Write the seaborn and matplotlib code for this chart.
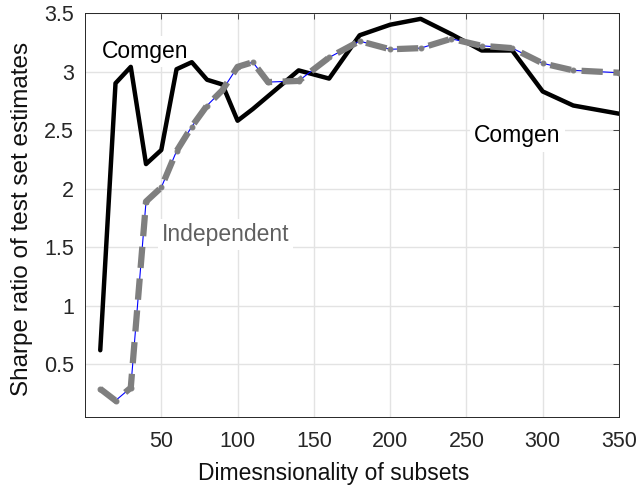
import matplotlib
matplotlib.use("Agg")
import matplotlib.pyplot as plt
import seaborn as sns
import pandas as pd

dims = [10, 20, 30, 40, 50, 60, 70, 80, 90, 100, 110, 120, 140, 160, 180, 200, 220, 240, 260, 280, 300, 320, 350]
comgen = [0.62, 2.90, 3.04, 2.21, 2.33, 3.02, 3.08, 2.93, 2.89, 2.58, 2.68, 2.79, 3.01, 2.94, 3.31, 3.40, 3.45, 3.32, 3.18, 3.18, 2.83, 2.71, 2.64]
independent = [0.29, 0.19, 0.30, 1.89, 2.01, 2.32, 2.53, 2.71, 2.84, 3.04, 3.08, 2.91, 2.92, 3.12, 3.26, 3.19, 3.20, 3.28, 3.22, 3.20, 3.07, 3.01, 2.99]
xticks = [50, 100, 150, 200, 250, 300, 350]
yticks = [0.5, 1, 1.5, 2, 2.5, 3, 3.5]
yticklabels = ["0.5", "1", "1.5", "2", "2.5", "3", "3.5"]

sns.set_style("white")
plt.rcParams['font.family'] = ['Liberation Sans', 'DejaVu Sans']

df = pd.DataFrame({"dim": dims, "comgen": comgen, "independent": independent})

fig = plt.figure(figsize=(6.36, 4.94), dpi=100)
ax = fig.add_axes([85 / 636, (494 - 417) / 494, 534 / 636, 404 / 494])

sns.lineplot(data=df, x="dim", y="comgen", ax=ax, color="black", lw=3.2, sort=False, zorder=3)
sns.lineplot(data=df, x="dim", y="independent", ax=ax, color="blue", lw=0.8, sort=False,
             marker="o", markersize=3.5, markerfacecolor="#7f7f7f", markeredgecolor="#7f7f7f", zorder=4)
sns.lineplot(data=df, x="dim", y="independent", ax=ax, color="#7f7f7f", lw=4.5, sort=False, zorder=5)
ax.lines[-1].set_dashes((3.4, 1.7))
ax.lines[-1].set_dash_capstyle("butt")

ax.set_xlim(0, 350)
ax.set_ylim(0.05, 3.5)
ax.set_xticks(xticks)
ax.set_yticks(yticks)
ax.set_yticklabels(yticklabels)
ax.grid(True, color="#e3e3e3", lw=1.0)
ax.set_axisbelow(True)
ax.tick_params(direction="in", top=True, right=True, length=4, width=0.6, color="#262626",
               labelsize=15.5, labelcolor="#262626")
ax.tick_params(axis="x", pad=10)
ax.tick_params(axis="y", pad=8)
for s in ax.spines.values():
    s.set_color("#262626")
    s.set_linewidth(0.7)

ax.set_xlabel("Dimesnsionality of subsets", fontsize=16.5, color="#111111")
ax.set_ylabel("Sharpe ratio of test set estimates", fontsize=17.5, color="#111111")
ax.xaxis.set_label_coords(0.466, -0.112)
ax.yaxis.set_label_coords(-0.097, 0.49)

bb = dict(facecolor="white", edgecolor="none", pad=3)
ax.text(39.6, 3.17, "Comgen", fontsize=16.5, color="black", ha="center", va="center", bbox=bb, zorder=2)
ax.text(283.4, 2.45, "Comgen", fontsize=16.5, color="black", ha="center", va="center", bbox=bb, zorder=2)
ax.text(50.3, 1.61, "Independent", fontsize=16.5, color="#606060", ha="left", va="center", bbox=bb, zorder=2)

if ax.get_legend():
    ax.get_legend().remove()

fig.savefig("out.png", dpi=100)
